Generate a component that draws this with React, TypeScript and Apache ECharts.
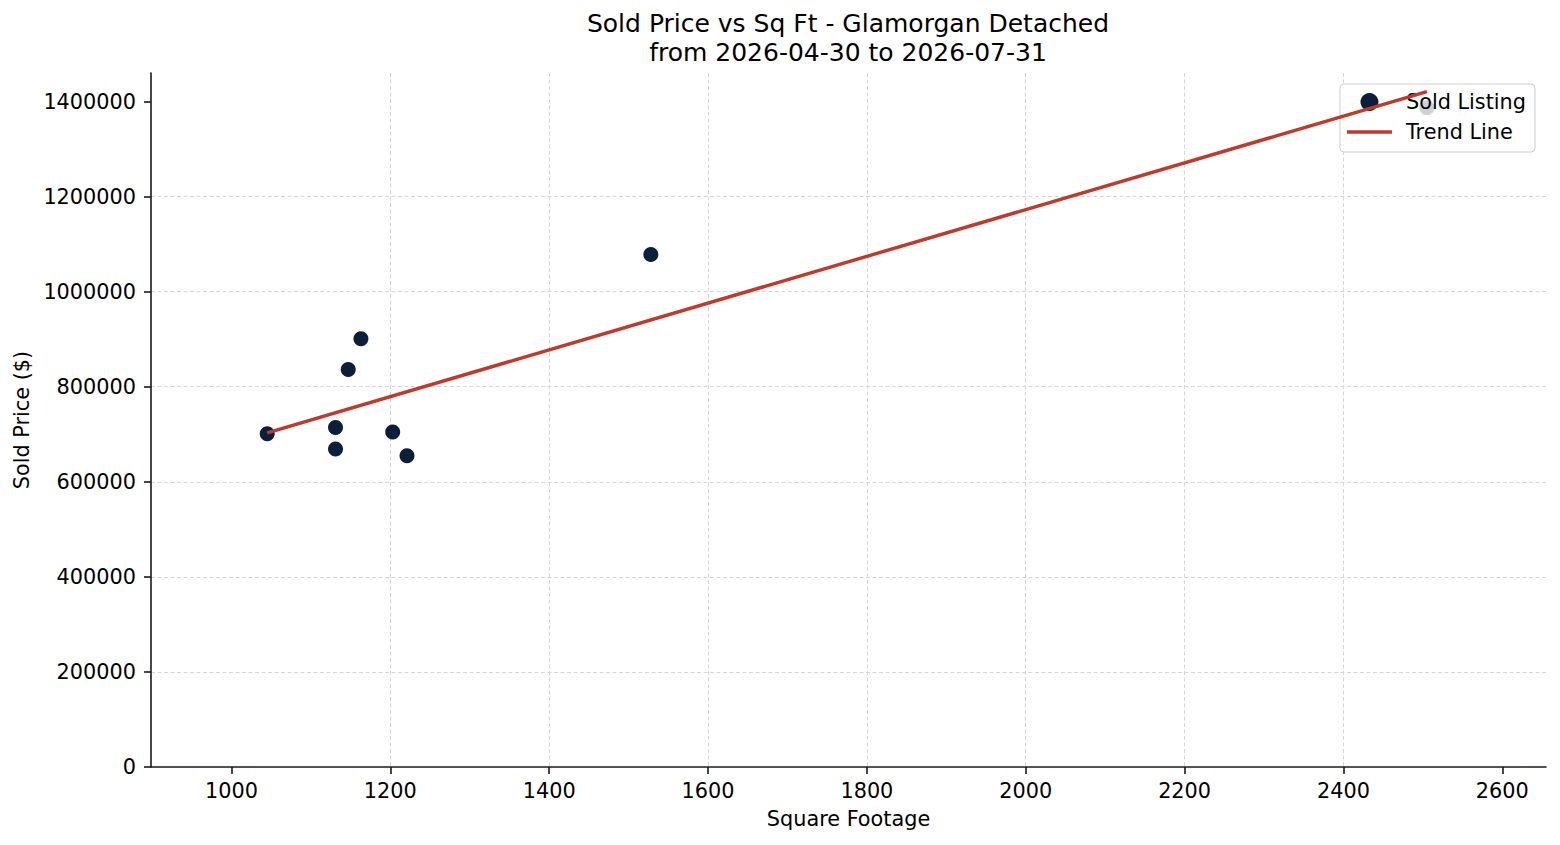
import { useEffect, useRef } from 'react';
import * as echarts from 'echarts';

// sold listings
const sqft = [1045, 1131, 1131, 1147, 1163, 1203, 1221, 1528, 2505];
const soldPrice = [701000, 714000, 669000, 836000, 901000, 705000, 655000, 1078000, 1387000];

// fitted trend line, two end points
const trendSqft = [1045, 2505];
const trendPrice = [703000, 1421000];

const xTicks = [1000, 1200, 1400, 1600, 1800, 2000, 2200, 2400, 2600];
const yTicks = [0, 200000, 400000, 600000, 800000, 1000000, 1200000, 1400000];
const xMin = 898.7;
const xMax = 2655;
const yMax = 1460000;

const FONT = 'DejaVu Sans';
const FS = 20.8;
const NAVY = '#0b1f3b';
const RED = '#c0392b';
const GRID = '#d6d6d6';
const INK = '#1a1a1a';

export default function App() {
  const elRef = useRef<HTMLDivElement>(null);

  useEffect(() => {
    document.body.style.margin = '0';
    const el = elRef.current;
    if (!el) return;
    const chart = echarts.init(el, undefined, { renderer: 'svg' });

    const axisCommon = {
      axisLine: { show: true, lineStyle: { color: INK, width: 1.6 } },
      splitLine: {
        show: true,
        showMinLine: false,
        showMaxLine: false,
        lineStyle: { color: GRID, width: 1, type: [4, 2.5] },
      },
      nameLocation: 'middle' as const,
      nameTextStyle: { fontFamily: FONT, fontSize: FS, color: '#000' },
    };
    const tickStyle = { show: true, length: 7, lineStyle: { color: INK, width: 1.6 } };
    const labelStyle = {
      fontFamily: FONT,
      fontSize: FS,
      color: '#000',
      formatter: (v: number) => String(v),
    };

    chart.setOption({
      animation: false,
      backgroundColor: '#fff',
      textStyle: { fontFamily: FONT },
      grid: { left: 151, right: 14, top: 73, bottom: 78, containLabel: false, outerBoundsMode: 'none' },
      graphic: [
        {
          type: 'text',
          x: 848,
          y: 9,
          style: {
            text: 'Sold Price vs Sq Ft - Glamorgan Detached\nfrom 2026-04-30 to 2026-07-31',
            textAlign: 'center',
            textVerticalAlign: 'top',
            verticalAlign: 'top',
            fontFamily: FONT,
            fontSize: 25,
            lineHeight: 29,
            fill: '#000',
          },
        },
      ],
      legend: {
        orient: 'vertical',
        right: 25,
        top: 84,
        padding: [7.5, 9, 9.5, 7],
        itemWidth: 45,
        itemHeight: 18,
        itemGap: 9,
        backgroundColor: 'rgba(255,255,255,0.8)',
        borderColor: '#cccccc',
        borderWidth: 1,
        borderRadius: 4,
        textStyle: { fontFamily: FONT, fontSize: FS, lineHeight: 21, color: '#000', padding: [0, 0, 0, 9] },
        data: [
          { name: 'Sold Listing', icon: 'circle' },
          { name: 'Trend Line', icon: 'path://M0,0H45V3.6H0Z' },
        ],
      },
      xAxis: {
        type: 'value',
        min: xMin,
        max: xMax,
        minInterval: 200,
        maxInterval: 200,
        name: 'Square Footage',
        nameGap: 41,
        ...axisCommon,
        axisTick: { ...tickStyle, customValues: xTicks },
        axisLabel: { ...labelStyle, customValues: xTicks, margin: 13 },
      },
      yAxis: {
        type: 'value',
        min: 0,
        max: yMax,
        interval: 200000,
        name: 'Sold Price ($)',
        nameGap: 117,
        ...axisCommon,
        axisTick: { ...tickStyle, customValues: yTicks },
        axisLabel: { ...labelStyle, customValues: yTicks, margin: 15 },
      },
      series: [
        {
          name: 'Sold Listing',
          type: 'scatter',
          symbol: 'circle',
          symbolSize: 15,
          itemStyle: { color: NAVY, opacity: 1 },
          data: sqft.map((x, i) => [x, soldPrice[i]]),
          z: 3,
        },
        {
          name: 'Trend Line',
          type: 'line',
          symbol: 'none',
          lineStyle: { color: RED, width: 3.4 },
          itemStyle: { color: RED },
          data: trendSqft.map((x, i) => [x, trendPrice[i]]),
          z: 4,
        },
      ],
    });

    return () => {
      chart.dispose();
    };
  }, []);

  return <div ref={elRef} style={{ width: 1560, height: 845 }} />;
}
